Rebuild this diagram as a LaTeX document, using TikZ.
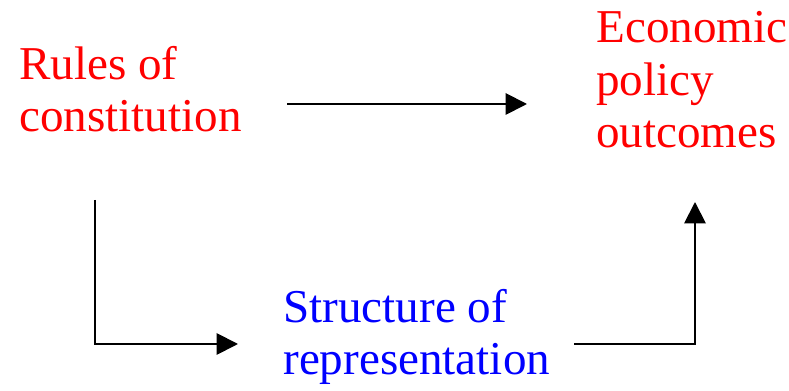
\documentclass[tikz,border=0pt]{standalone}
\usepackage{fontspec}
\setmainfont{Liberation Serif}
\usetikzlibrary{arrows.meta}
\tikzset{
  label/.style={align=left, anchor=base west, inner sep=0pt, font=\fontsize{26.8}{30.1}\selectfont},
  flow/.style={line width=1.1pt, -{Triangle[length=0.43cm, width=0.43cm]}}
}
\begin{document}
\begin{tikzpicture}[x=0.02cm, y=-0.02cm]
    \useasboundingbox (0,0) rectangle (789,391);
    % texts (anchored at the baseline of the last line)
    \node[label, red] (rules) at (19,132) {Rules of\\constitution};
    \node[label, red] (econ) at (596,148) {Economic\\policy\\outcomes};
    \node[label, blue] (struct) at (283,375) {Structure of\\representation};
    % connectors
    \coordinate (r1) at (287,104);
    \coordinate (e1) at (527,104);
    \coordinate (r2) at (95,200);
    \coordinate (s1) at (238,344);
    \coordinate (s2) at (574,344);
    \coordinate (e2) at (695,202);
    \draw[flow] (r1) -- (e1);
    \draw[flow] (r2) |- (s1);
    \draw[flow] (s2) -| (e2);
\end{tikzpicture}
\end{document}
